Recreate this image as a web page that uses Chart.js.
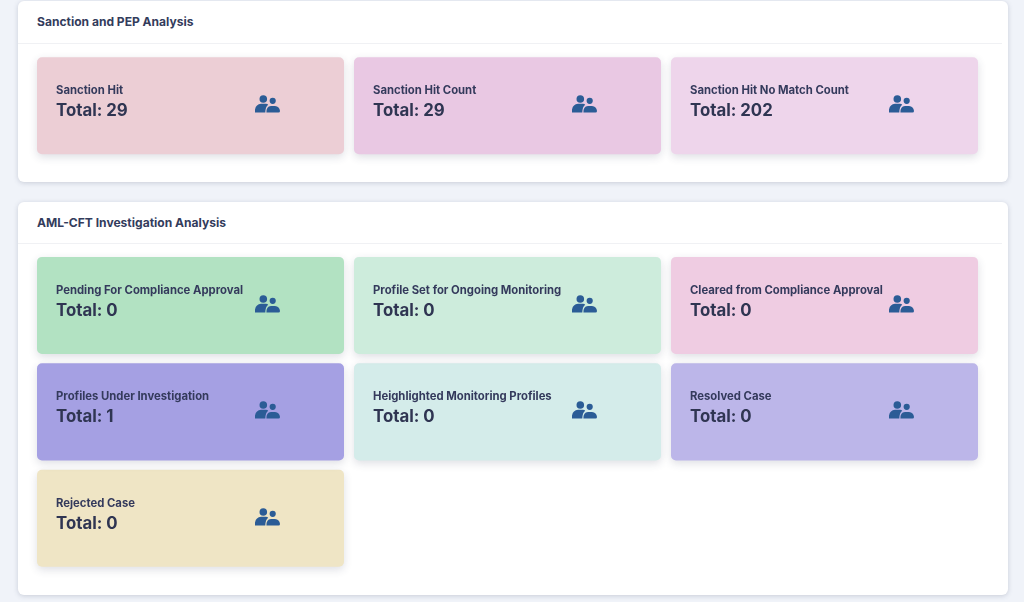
<!DOCTYPE html>
<html>
<head>
<meta charset="utf-8">
<script src="https://cdn.jsdelivr.net/npm/chart.js@4"></script>
<style>
    html, body { margin: 0; padding: 0; }
    body { width: 1024px; height: 602px; background: #f0f3f9; overflow: hidden; position: relative; font-family: Inter, sans-serif; }
    .panel { position: absolute; left: 18px; width: 990px; background: #fff; border-radius: 6px; box-shadow: 0 1px 5px rgba(60, 70, 100, .22); }
    .panel h5 { margin: 0; position: absolute; left: 19px; font-size: 12.05px; font-weight: 650; color: #333c5c; line-height: 16px; }
    .panel hr { margin: 0; position: absolute; left: 0; width: 984px; border: 0; border-top: 1px solid #f0f1f4; }
    .panel canvas { position: absolute; left: 0; }
    #panelSancion { top: 1px; height: 181px; }
    #panelSancion h5 { top: 13px; }
    #panelSancion hr { top: 42px; }
    #panelSancion canvas { top: 44px; }
    #panelAml { top: 202px; height: 393px; }
    #panelAml h5 { top: 13px; }
    #panelAml hr { top: 41px; }
    #panelAml canvas { top: 43px; }
</style>
</head>
<body>
<div class="panel" id="panelSancion">
    <h5 id="tituloSancion"></h5>
    <hr>
    <canvas id="graficoSancion" width="990" height="137"></canvas>
</div>
<div class="panel" id="panelAml">
    <h5 id="tituloAml"></h5>
    <hr>
    <canvas id="graficoAml" width="990" height="350"></canvas>
</div>
<script>
const sectionTitles = ['Sanction and PEP Analysis', 'AML-CFT Investigation Analysis'];

const sanctionLabels = ['Sanction Hit', 'Sanction Hit Count', 'Sanction Hit No Match Count'];
const sanctionTotals = [29, 29, 202];
const sanctionColors = ['#ecced5', '#e9c8e3', '#eed5eb'];

const amlLabels = [
    'Pending For Compliance Approval', 'Profile Set for Ongoing Monitoring', 'Cleared from Compliance Approval',
    'Profiles Under Investigation', 'Heighlighted Monitoring Profiles', 'Resolved Case',
    'Rejected Case'
];
const amlTotals = [0, 0, 0, 1, 0, 0, 0];
const amlColors = ['#b2e2c2', '#cdecdc', '#efcce2', '#a5a0e3', '#d4ecea', '#bcb6e9', '#efe5c5'];

const columnas = ['c1', 'c2', 'c3'];

document.getElementById('tituloSancion').innerText = sectionTitles[0];
document.getElementById('tituloAml').innerText = sectionTitles[1];

// silueta de dos usuarios, relativa a la esquina de la tarjeta
const dibujaIcono = (ctx, x, y) => {
    ctx.save();
    ctx.translate(x, y);
    ctx.fillStyle = '#2b5c96';
    ctx.beginPath();
    ctx.arc(226.3, 42, 3.8, 0, Math.PI * 2);
    ctx.arc(235.7, 43.8, 3.1, 0, Math.PI * 2);
    ctx.fill();
    ctx.beginPath();
    ctx.moveTo(218, 55.6);
    ctx.lineTo(218, 52.5);
    ctx.quadraticCurveTo(219, 47.2, 224, 46.8);
    ctx.lineTo(229, 46.8);
    ctx.quadraticCurveTo(230.5, 47, 231.2, 47.8);
    ctx.quadraticCurveTo(228.5, 49.5, 228.3, 55.6);
    ctx.closePath();
    ctx.fill();
    ctx.beginPath();
    ctx.moveTo(229.4, 55.6);
    ctx.quadraticCurveTo(229, 49.5, 234, 49);
    ctx.lineTo(238, 49);
    ctx.quadraticCurveTo(242.5, 49.5, 243, 54);
    ctx.quadraticCurveTo(243, 55.6, 241.5, 55.6);
    ctx.closePath();
    ctx.fill();
    ctx.restore();
}

const pluginTarjetas = {
    id: 'tarjetas',
    beforeDatasetsDraw(chart) {
        const ctx = chart.ctx;
        ctx.save();
        ctx.shadowColor = 'rgba(50, 55, 90, .16)';
        ctx.shadowBlur = 9;
        ctx.shadowOffsetY = 3;
    },
    afterDatasetsDraw(chart, args, opts) {
        const ctx = chart.ctx;
        ctx.restore();
        chart.data.datasets.forEach((ds, r) => {
            chart.getDatasetMeta(r).data.forEach((bar, c) => {
                const i = r * columnas.length + c;
                if (i >= opts.labels.length) return;
                const izq = bar.x - bar.width / 2;
                const arriba = Math.round(Math.min(bar.y, bar.base));
                ctx.save();
                ctx.textBaseline = 'alphabetic';
                ctx.fillStyle = '#343a5c';
                ctx.font = '650 11.3px Inter';
                ctx.fillText(opts.labels[i], izq + 19, arriba + 37);
                ctx.font = '650 16.8px Inter';
                ctx.fillStyle = '#2f3552';
                ctx.fillText('Total: ' + opts.totals[i], izq + 19, arriba + 58.5);
                ctx.restore();
                dibujaIcono(ctx, izq, arriba);
            });
        });
    }
}

const generaGrafico = (id, labels, totals, colors, padding) => {
    const filas = Math.ceil(labels.length / columnas.length);
    const margen = 0.044;
    const datasets = [];
    for (let r = 0; r < filas; r++) {
        const desde = r * columnas.length;
        datasets.push({
            data: columnas.map((c, k) => desde + k < labels.length ? [r + margen, r + 1 - margen] : null),
            backgroundColor: colors.slice(desde, desde + columnas.length),
            borderRadius: 5,
            borderSkipped: false,
            barPercentage: 307 / 317,
            categoryPercentage: 1,
            clip: false
        });
    }
    return new Chart(document.getElementById(id), {
        type: 'bar',
        data: { labels: columnas, datasets },
        plugins: [pluginTarjetas],
        options: {
            responsive: false,
            animation: false,
            layout: { padding },
            events: [],
            plugins: {
                legend: { display: false },
                tooltip: { enabled: false },
                tarjetas: { labels, totals }
            },
            scales: {
                x: { display: false, stacked: true },
                y: { display: false, stacked: false, reverse: true, min: 0, max: filas }
            }
        }
    });
}

generaGrafico('graficoSancion', sanctionLabels, sanctionTotals, sanctionColors, { left: 14, right: 25, top: 7.5, bottom: 23 });
generaGrafico('graficoAml', amlLabels, amlTotals, amlColors, { left: 14, right: 25, top: 7.2, bottom: 23.5 });
</script>
</body>
</html>
